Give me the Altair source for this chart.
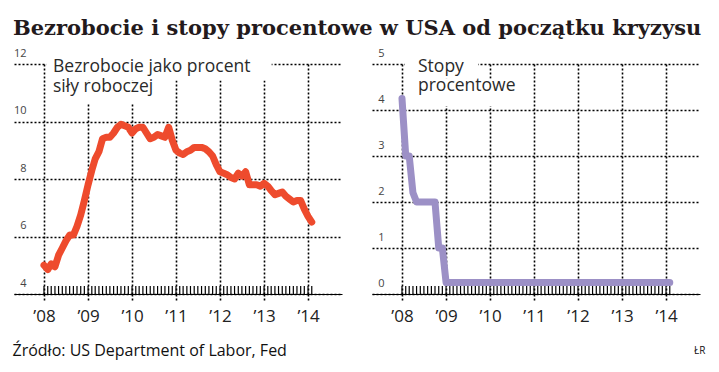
import altair as alt
import pandas as pd

# ---- data (monthly, Jan 2008 - Feb 2014) ----
unemployment = [
    5.0, 4.85, 5.05, 4.95, 5.35, 5.6, 5.85, 6.05, 6.05, 6.35, 6.75, 7.25,   # 2008
    7.8, 8.3, 8.7, 8.95, 9.4, 9.45, 9.45, 9.6, 9.8, 9.9, 9.85, 9.8,        # 2009
    9.6, 9.75, 9.8, 9.8, 9.6, 9.4, 9.45, 9.55, 9.5, 9.45, 9.8, 9.35,       # 2010
    9.0, 8.9, 8.85, 8.95, 9.0, 9.1, 9.1, 9.1, 9.05, 8.95, 8.8, 8.5,        # 2011
    8.25, 8.2, 8.15, 8.05, 8.0, 8.2, 8.1, 8.25, 7.8, 7.8, 7.8, 7.75,       # 2012
    7.85, 7.75, 7.6, 7.45, 7.5, 7.55, 7.4, 7.3, 7.2, 7.25, 7.25, 6.95,     # 2013
    6.7, 6.5,                                                            # 2014
]
fed_rate = [
    4.25, 3.0, 3.0, 2.2, 2.0, 2.0, 2.0, 2.0, 2.0, 2.0, 1.0, 1.0,           # 2008
    0.25, 0.25, 0.25, 0.25, 0.25, 0.25, 0.25, 0.25, 0.25, 0.25, 0.25, 0.25, # 2009
    0.25, 0.25, 0.25, 0.25, 0.25, 0.25, 0.25, 0.25, 0.25, 0.25, 0.25, 0.25, # 2010
    0.25, 0.25, 0.25, 0.25, 0.25, 0.25, 0.25, 0.25, 0.25, 0.25, 0.25, 0.25, # 2011
    0.25, 0.25, 0.25, 0.25, 0.25, 0.25, 0.25, 0.25, 0.25, 0.25, 0.25, 0.25, # 2012
    0.25, 0.25, 0.25, 0.25, 0.25, 0.25, 0.25, 0.25, 0.25, 0.25, 0.25, 0.25, # 2013
    0.25, 0.25,                                                          # 2014
]
months = pd.date_range("2008-01-01", periods=len(unemployment), freq="MS")
years = [2008, 2009, 2010, 2011, 2012, 2013, 2014]

left_ticks = [4, 6, 8, 10, 12]
right_ticks = [0, 1, 2, 3, 4, 5]

title_text = "Bezrobocie i stopy procentowe w USA od początku kryzysu"
source_text = "Źródło: US Department of Labor, Fed"
credit_text = "ŁR"
left_label = ["Bezrobocie jako procent", "siły roboczej"]
right_label = ["Stopy", "procentowe"]

# ---- style ----
W, H = 328, 230
SANS = "Open Sans"
ORANGE = "#ee4b2d"
PURPLE = "#9c90c6"
X_DOMAIN = [alt.DateTime(year=2007, month=4, date=27),
            alt.DateTime(year=2014, month=10, date=10)]
YEAR_VALUES = [alt.DateTime(year=y, month=1, date=1) for y in years]


def x_enc(title, title_x, align):
    return alt.X(
        "date:T",
        scale=alt.Scale(domain=X_DOMAIN),
        axis=alt.Axis(
            values=YEAR_VALUES, format="’%y", formatType="time",
            grid=True, gridDash=[2, 2], gridColor="black", gridWidth=1.6,
            domain=True, domainColor="black", domainWidth=1,
            ticks=True, tickSize=7, tickDash=[2, 2], tickColor="black", tickWidth=1.6,
            labelFont=SANS, labelFontSize=17, labelColor="#222", labelPadding=7,
            labelFlush=False,
            title=title, titleX=title_x, titleY=56, titleAlign=align,
            titleBaseline="middle", titleFont=SANS, titleFontWeight="normal",
            titleFontSize=16 if align == "left" else 10, titleColor="#111",
        ),
    )


def y_enc(domain, values):
    return alt.Y(
        "val:Q",
        scale=alt.Scale(domain=domain, nice=False, zero=False),
        axis=alt.Axis(
            values=values, grid=True, gridDash=[2, 2], gridColor="black", gridWidth=1.6,
            domain=False, ticks=False,
            labelAlign="right", labelPadding=-12, labelBaseline="bottom", labelOffset=-6,
            labelFont=SANS, labelFontSize=11, labelColor="#444",
            title=None,
        ),
    )


def panel(values, color, domain, yvals, label, label_date, label_vals,
          masks, title, title_x, align):
    line_df = pd.DataFrame({"date": months, "val": values})
    mask_df = pd.DataFrame(masks, columns=["date", "date2", "val", "val2"])
    mask_df["date"] = pd.to_datetime(mask_df["date"])
    mask_df["date2"] = pd.to_datetime(mask_df["date2"])
    text_df = pd.DataFrame({"date": [pd.Timestamp(label_date)] * len(label),
                            "val": label_vals, "txt": label})
    X = x_enc(title, title_x, align)
    Y = y_enc(domain, yvals)

    mask = alt.Chart(mask_df).mark_rect(color="white").encode(
        x=X, x2="date2:T", y=Y, y2="val2:Q")
    ticks = alt.Chart(line_df).mark_rule(color="black", strokeWidth=1.2).encode(
        x=X, y=alt.value(H - 8), y2=alt.value(H))
    line = alt.Chart(line_df).mark_line(
        color=color, strokeWidth=7, strokeCap="round", strokeJoin="round").encode(x=X, y=Y)
    text = alt.Chart(text_df).mark_text(
        align="left", baseline="alphabetic", font=SANS, fontSize=17.5,
        color="#2a2a2a").encode(x=X, y=Y, text="txt")
    return alt.layer(mask, ticks, line, text).properties(width=W, height=H)


left = panel(
    unemployment, ORANGE, [4, 12], left_ticks, left_label, "2008-03-16", [11.72, 11.04],
    [["2008-01-20", "2013-03-05", 12.35, 11.43],
     ["2008-01-20", "2010-10-01", 11.43, 10.64]],
    source_text, -2, "left")
right = panel(
    fed_rate, PURPLE, [0, 5], right_ticks, right_label, "2008-05-13", [4.83, 4.405],
    [["2008-01-25", "2009-09-23", 5.25, 4.68],
     ["2008-01-25", "2010-10-10", 4.68, 4.08]],
    credit_text, 333, "right")

chart = alt.hconcat(left, right, spacing=30).properties(
    title=alt.TitleParams(
        text=title_text, font="DejaVu Serif", fontSize=21, fontWeight="bold",
        color="#231a1c", anchor="start", offset=8, dx=1),
    padding={"left": 4, "top": 10, "right": 5, "bottom": 5},
).configure_view(stroke=None)

chart.save("out.html", embed_options={"renderer": "svg", "actions": False})
